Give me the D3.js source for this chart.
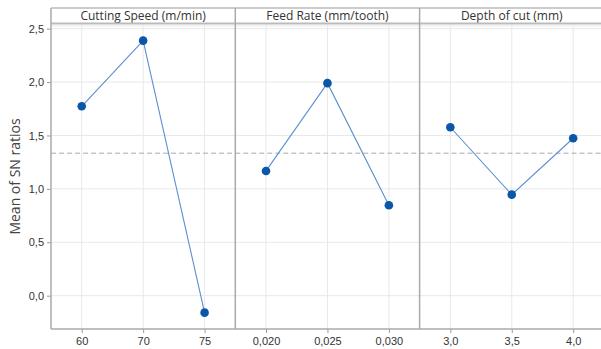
<!DOCTYPE html>
<html>
<head>
<meta charset="utf-8">
<script src="https://cdn.jsdelivr.net/npm/d3@7"></script>
<style>
  body { margin: 0; background: #fff; }
  svg { display: block; font-family: "Open Sans", "Noto Sans", sans-serif; }
</style>
</head>
<body>
<div id="vis"></div>
<script>
// factors shown in the panels
var factors = ['Cutting Speed (m/min)', 'Feed Rate (mm/tooth)', 'Depth of cut (mm)'];
var speedLevels = ['60', '70', '75'];
var feedLevels = ['0,020', '0,025', '0,030'];
var depthLevels = ['3,0', '3,5', '4,0'];
var speedMeans = [1.773, 2.388, -0.159];
var feedMeans = [1.168, 1.990, 0.846];
var depthMeans = [1.577, 0.946, 1.474];
var yTicks = [0, 0.5, 1.0, 1.5, 2.0, 2.5];
var grandMean = 1.334;

var levels = [speedLevels, feedLevels, depthLevels],
	means = [speedMeans, feedMeans, depthMeans];

var W = 601, H = 349,
	mLeft = 51, mTop = 8, headH = 16, mBottom = 329,
	panelW = 184.3;

var svg = d3.select('#vis').append('svg')
	.attr('width', W)
	.attr('height', H);

var y = d3.scaleLinear()
	.domain([-0.312, 2.539])
	.range([mBottom, mTop + headH + 0.5]);

var fmt = function(d) { return d3.format('.1f')(d).replace('.', ','); };

// horizontal grid across all panels
svg.append('g').selectAll('line')
	.data(yTicks)
	.enter().append('line')
		.attr('x1', mLeft).attr('x2', mLeft + 3 * panelW)
		.attr('y1', function(d) { return y(d); })
		.attr('y2', function(d) { return y(d); })
		.style('stroke', '#e8e8e8');

factors.forEach(function(f, i) {
	var x0 = mLeft + i * panelW;
	var x = d3.scalePoint()
		.domain(levels[i])
		.range([x0, x0 + panelW])
		.padding(0.5);

	var g = svg.append('g');

	// vertical grid
	g.selectAll('line.vg')
		.data(levels[i])
		.enter().append('line')
			.attr('x1', function(d) { return x(d); })
			.attr('x2', function(d) { return x(d); })
			.attr('y1', mTop + headH).attr('y2', mBottom)
			.style('stroke', '#e8e8e8');

	// x axis
	var ax = g.append('g')
		.attr('transform', 'translate(0,' + mBottom + ')')
		.call(d3.axisBottom(x).tickSize(4).tickPadding(4));
	ax.select('.domain').remove();
	ax.selectAll('line').style('stroke', '#999');
	ax.selectAll('text').style('font-size', '11px').style('fill', '#333');

	// mean reference line
	g.append('line')
		.attr('x1', x0).attr('x2', x0 + panelW)
		.attr('y1', y(grandMean)).attr('y2', y(grandMean))
		.style('stroke', '#aaa')
		.style('stroke-dasharray', '5,3');

	var pts = levels[i].map(function(l, j) { return {l: l, v: means[i][j]}; });

	g.append('path')
		.datum(pts)
		.attr('d', d3.line()
			.x(function(d) { return x(d.l); })
			.y(function(d) { return y(d.v); }))
		.style('fill', 'none')
		.style('stroke', '#5b8fd0')
		.style('stroke-width', 1.1);

	g.selectAll('circle')
		.data(pts)
		.enter().append('circle')
			.attr('cx', function(d) { return x(d.l); })
			.attr('cy', function(d) { return y(d.v); })
			.attr('r', 4.3)
			.style('fill', '#0a56a8');

	// header strip
	g.append('text')
		.attr('x', x0 + panelW / 2)
		.attr('y', mTop + 12)
		.style('text-anchor', 'middle')
		.style('font-size', '12px')
		.style('fill', '#333')
		.text(f);
});

// header lines
svg.append('line')
	.attr('x1', mLeft).attr('x2', W)
	.attr('y1', mTop).attr('y2', mTop)
	.style('stroke', '#ccc').style('stroke-width', 2);
svg.append('line')
	.attr('x1', mLeft).attr('x2', W)
	.attr('y1', mTop + headH - 0.5).attr('y2', mTop + headH - 0.5)
	.style('stroke', '#bbb').style('stroke-width', 2);
svg.append('line')
	.attr('x1', mLeft).attr('x2', W)
	.attr('y1', mTop + headH + 2).attr('y2', mTop + headH + 2)
	.style('stroke', '#f0f0f0').style('stroke-width', 1.5);

// panel dividers
svg.append('g').selectAll('line')
	.data([1, 2])
	.enter().append('line')
		.attr('x1', function(d) { return mLeft + d * panelW; })
		.attr('x2', function(d) { return mLeft + d * panelW; })
		.attr('y1', mTop).attr('y2', mBottom)
		.style('stroke', '#aaa').style('stroke-width', 1.5);

// y axis
var yAx = svg.append('g')
	.attr('transform', 'translate(' + mLeft + ',0)')
	.call(d3.axisLeft(y).tickValues(yTicks).tickFormat(fmt).tickSize(4).tickPadding(3));
yAx.select('.domain').remove();
yAx.selectAll('line').style('stroke', '#999');
yAx.selectAll('text').style('font-size', '11px').style('fill', '#333');

svg.append('line')
	.attr('x1', mLeft).attr('x2', mLeft)
	.attr('y1', mTop).attr('y2', mBottom)
	.style('stroke', '#aaa').style('stroke-width', 1.5);
svg.append('line')
	.attr('x1', mLeft).attr('x2', W)
	.attr('y1', mBottom).attr('y2', mBottom)
	.style('stroke', '#aaa').style('stroke-width', 1.5);

// y label
svg.append('text')
	.attr('transform', 'translate(20,' + ((mTop + headH + mBottom) / 2) + ')rotate(-90)')
	.style('text-anchor', 'middle')
	.style('font-size', '14px')
	.style('fill', '#444')
	.text('Mean of SN ratios');
</script>
</body>
</html>
